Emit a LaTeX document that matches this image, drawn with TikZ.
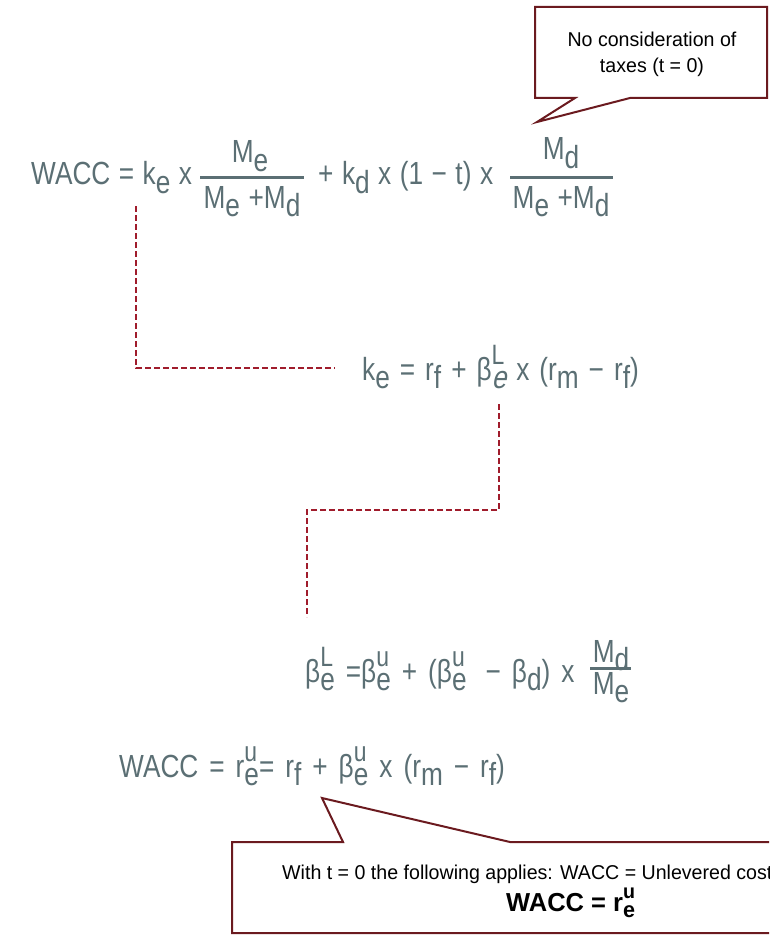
\documentclass[tikz,border=0pt]{standalone}
\usepackage{fontspec}
\setmainfont{Liberation Sans}[FakeStretch=0.98]
\newfontfamily\formfont{Liberation Sans}[FakeStretch=0.82]
\newfontfamily\formslant{Liberation Sans}[FakeStretch=0.82,FakeSlant=0.22]
\definecolor{formgray}{HTML}{5B6F74}
\definecolor{dashred}{HTML}{A01C2C}
\definecolor{boxred}{HTML}{6B1A1F}
\newcommand\lo[1]{\raisebox{-0.26em}{#1}}
\newcommand\supsub[2]{\rlap{\raisebox{0.5em}{\fontsize{28}{30}\selectfont #1}}\raisebox{-0.26em}{#2}}
\newcommand\formsetup{\formfont\fontsize{32}{36}\selectfont\spaceskip=11pt\relax}
\newcommand\formtight{\formfont\fontsize{32}{36}\selectfont\spaceskip=8.5pt\relax}
\newcommand\formmid{\formfont\fontsize{32}{36}\selectfont\spaceskip=10pt\relax}
\tikzset{
  form/.style={inner sep=0pt, text=formgray, font=\formsetup},
  tight/.style={font=\formtight},
  mid/.style={font=\formmid},
  fbar/.style={draw=formgray, line width=3pt},
  link/.style={draw=dashred, line width=2.6pt, dash pattern=on 6pt off 3pt},
  callout/.style={draw=boxred, line width=2pt, fill=white},
  note/.style={inner sep=0pt, text=black, font=\fontsize{20}{24}\selectfont},
}
\begin{document}
\begin{tikzpicture}[x=1pt,y=-1pt]
\useasboundingbox (0,0) rectangle (769,936);
\clip (0,0) rectangle (769,936);

% callout top
\draw[callout] (535,7) -- (767,7) -- (767,98) -- (630,98) -- (537,122) -- (575,98) -- (535,98) -- cycle;
\node[note, anchor=base] (c1a) at (652,47) {No consideration of};
\node[note, anchor=base] (c1b) at (652,73) {taxes (t = 0)};

% line 1
\node[form, tight, anchor=base west] (l1a) at (31,185) {WACC = k\lo{e} x};
\node[form, anchor=base] (f1n) at (250,163) {M\lo{e}};
\coordinate (b1l) at (200,178);
\coordinate (b1r) at (304,178);
\draw[fbar] (b1l) -- (b1r);
\node[form, tight, anchor=base] (f1d) at (252,208) {M\lo{e} +M\lo{d}};
\node[form, tight, anchor=base west] (l1b) at (318,185) {+ k\lo{d} x (1 − t) x};
\node[form, anchor=base] (f2n) at (561,160) {M\lo{d}};
\coordinate (b2l) at (510,178);
\coordinate (b2r) at (613,178);
\draw[fbar] (b2l) -- (b2r);
\node[form, tight, anchor=base] (f2d) at (561,208) {M\lo{e} +M\lo{d}};

% line 2
\node[form, mid, anchor=base west] (l2) at (362,380) {k\lo{e} = r\lo{f} + β\supsub{L}{{\formslant e}} x (r\lo{m} − r\lo{f})};

% line 3
\node[form, anchor=base west] (l3) at (305,682) {β\supsub{L}{e} =β\supsub{u}{e} + (β\supsub{u}{e}\hspace{8pt} − β\lo{d}) x};
\node[form, anchor=base] (f3n) at (611,662) {M\lo{d}};
\coordinate (b3l) at (590,668);
\coordinate (b3r) at (631,668);
\draw[fbar] (b3l) -- (b3r);
\node[form, anchor=base] (f3d) at (611,694) {M\lo{e}};

% line 4
\node[form, anchor=base west] (l4) at (119,777) {WACC = r\supsub{u}{e}= r\lo{f} + β\supsub{u}{e} x (r\lo{m} − r\lo{f})};

% dashed links
\coordinate (d1a) at (136,206);
\coordinate (d1b) at (136,368);
\coordinate (d1c) at (335,368);
\draw[link] (d1a) -- (d1b) -- (d1c);
\coordinate (d2a) at (499,404);
\coordinate (d2b) at (499,510);
\coordinate (d2c) at (307,510);
\coordinate (d2d) at (307,617);
\draw[link] (d2a) -- (d2b) -- (d2c) -- (d2d);

% callout bottom
\draw[callout] (232,842) -- (343,842) -- (322,798) -- (510,842) -- (790,842) -- (790,933) -- (232,933) -- cycle;
\node[note, anchor=base west] (c2a) at (282,879) {With t = 0 the following applies: WACC = Unlevered cost};
\node[note, anchor=base west, font=\bfseries\fontsize{26}{30}\selectfont] (c2b) at (506,911) {WACC = r\supsub{\fontsize{20}{22}\selectfont u}{\fontsize{22}{24}\selectfont e}};
\end{tikzpicture}
\end{document}
